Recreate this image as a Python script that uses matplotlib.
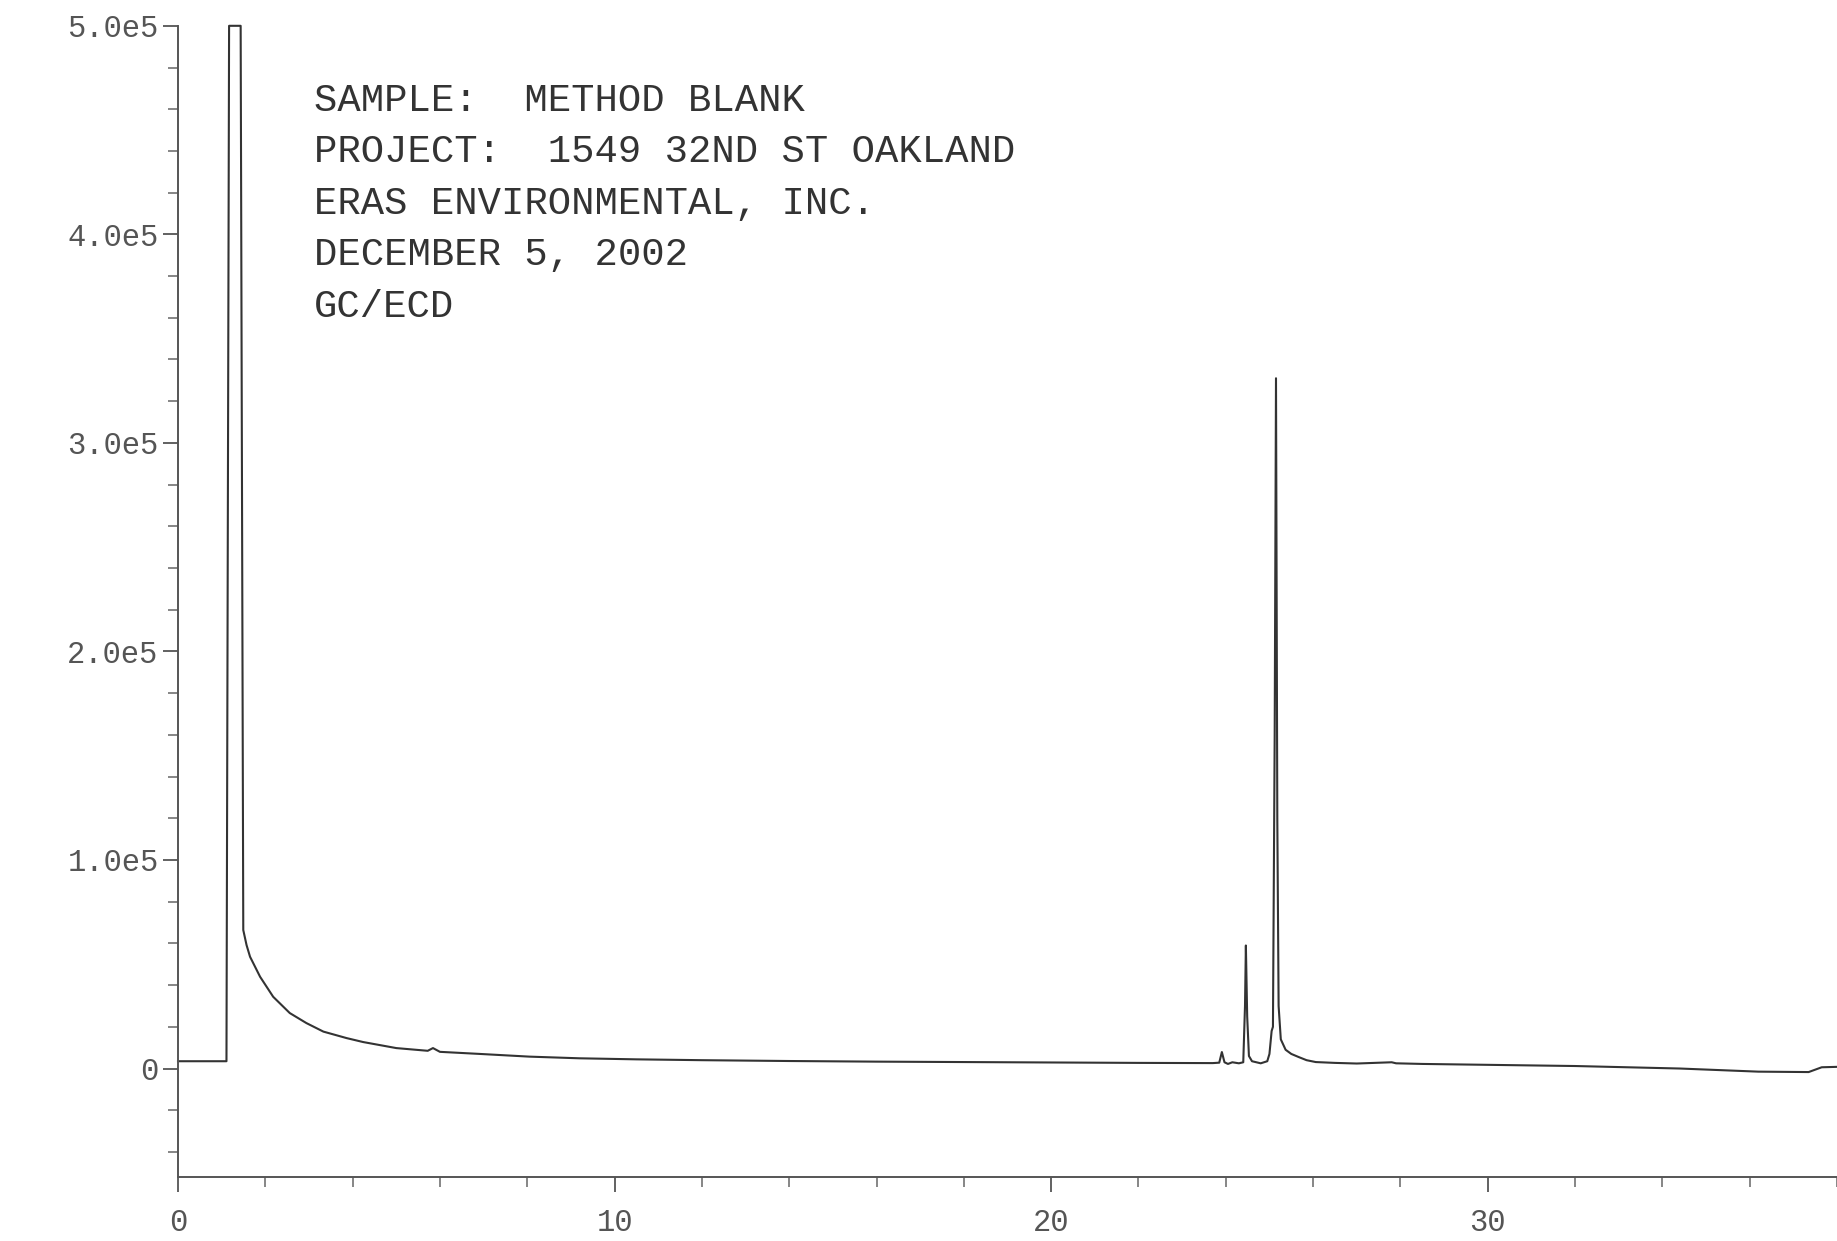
import matplotlib
matplotlib.use("Agg")
import matplotlib.pyplot as plt
from matplotlib.ticker import FixedLocator, MultipleLocator

# retention time (min) and detector response
time_min = [0.0, 1.11, 1.17, 1.435, 1.495, 1.57, 1.65, 1.88, 2.18, 2.56, 2.94,
            3.33, 3.86, 4.24, 5.0, 5.72, 5.84, 6.0, 6.91, 8.05, 9.2, 10.5,
            12.0, 14.0, 16.0, 18.0, 20.0, 22.0, 23.7, 23.85, 23.91, 23.97,
            24.05, 24.15, 24.3, 24.4, 24.44, 24.46, 24.49, 24.53, 24.6, 24.8,
            24.95, 25.0, 25.05, 25.08, 25.12, 25.15, 25.18, 25.21, 25.26,
            25.37, 25.5, 25.67, 25.85, 26.06, 26.5, 27.0, 27.8, 27.9, 28.5,
            30.25, 32.0, 34.4, 36.2, 37.35, 37.65, 38.0]
response = [3500, 3500, 500000, 500000, 66400, 59200, 53600, 44000, 34400,
            26600, 21800, 17700, 14600, 12700, 9800, 8500, 9800, 8000, 7000,
            5700, 4900, 4400, 4000, 3600, 3300, 3100, 2900, 2700, 2600, 2800,
            7900, 3000, 2200, 3000, 2500, 3000, 30000, 59000, 25000, 6000,
            3500, 2500, 3500, 7000, 18000, 20000, 160000, 331000, 120000,
            30000, 14000, 9000, 7000, 5500, 4000, 3100, 2700, 2400, 3000,
            2500, 2200, 1700, 1200, 0, -1500, -1700, 600, 800]

x_major = [0, 10, 20, 30]
x_labels = ["0", "10", "20", "30"]
y_major = [0, 100000, 200000, 300000, 400000, 500000]
y_labels = ["0", "1.0e5", "2.0e5", "3.0e5", "4.0e5", "5.0e5"]

header = ["SAMPLE:  METHOD BLANK",
          "PROJECT:  1549 32ND ST OAKLAND",
          "ERAS ENVIRONMENTAL, INC.",
          "DECEMBER 5, 2002",
          "GC/ECD"]

fig = plt.figure(figsize=(18.37, 12.41), dpi=100)
ax = fig.add_axes([0.0969, 0.0516, 0.9031, 0.9276])

ax.plot(time_min, response, color="#333333", lw=1.5, clip_on=False)

ax.set_xlim(0, 38)
ax.set_ylim(-52000, 500000)

for side in ["top", "right"]:
    ax.spines[side].set_visible(False)
for side in ["left", "bottom"]:
    ax.spines[side].set_color("#555555")
    ax.spines[side].set_linewidth(1.4)

ax.xaxis.set_major_locator(FixedLocator(x_major))
ax.set_xticklabels(x_labels)
ax.xaxis.set_minor_locator(MultipleLocator(2))
ax.yaxis.set_major_locator(FixedLocator(y_major))
ax.set_yticklabels(y_labels)
ax.yaxis.set_minor_locator(MultipleLocator(20000))

for lab in ax.get_xticklabels() + ax.get_yticklabels():
    lab.set_fontfamily("Liberation Mono")
    lab.set_fontsize(22)
    lab.set_color("#555555")

ax.tick_params(axis="both", which="major", length=11, width=1.3, color="#555555")
ax.tick_params(axis="both", which="minor", length=7, width=1.1, color="#666666")
ax.tick_params(axis="y", which="major", pad=3)
ax.tick_params(axis="x", which="major", pad=11)

y0 = 0.919
for i, line in enumerate(header):
    fig.text(0.171, y0 - i * 0.0415, line, fontsize=28,
             family="Liberation Mono", color="#333333", va="center", ha="left")

fig.savefig("out.png", dpi=100, facecolor="white")
